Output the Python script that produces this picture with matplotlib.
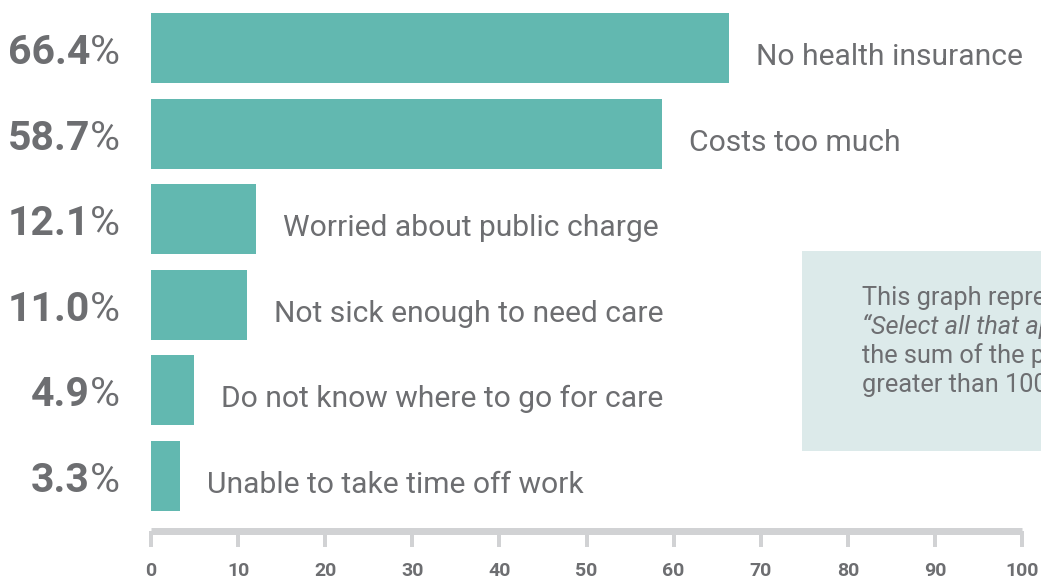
import matplotlib
matplotlib.use("Agg")
import matplotlib.pyplot as plt
from matplotlib.transforms import blended_transform_factory
from matplotlib.patches import Rectangle

# Reasons for not seeking care (percent of respondents)
reasons = [
    "No health insurance",
    "Costs too much",
    "Worried about public charge",
    "Not sick enough to need care",
    "Do not know where to go for care",
    "Unable to take time off work",
]
shares = [66.4, 58.7, 12.1, 11.0, 4.9, 3.3]
share_labels = ["66.4", "58.7", "12.1", "11.0", "4.9", "3.3"]
x_ticks = [0, 10, 20, 30, 40, 50, 60, 70, 80, 90, 100]

BAR = "#62b8b0"
TEXT = "#6d6e71"
AXIS = "#d1d2d4"
NOTE_BG = "#dceaea"

W, H = 1041, 580
fig = plt.figure(figsize=(W / 100, H / 100), dpi=100)
fig.patch.set_facecolor("white")

# axes placed in pixel terms: x 0..100 spans px 151..1022, rows spaced 85.6 px
left_px, right_px = 151, 1022
top_px, bottom_px = 5, 531
ax = fig.add_axes([left_px / W, 1 - bottom_px / H,
                   (right_px - left_px) / W, (bottom_px - top_px) / H])
pitch = 85.6
ax.set_xlim(0, 100)
ax.set_ylim(5 + (bottom_px - 476) / pitch, -(48 - top_px) / pitch)

ypos = list(range(len(reasons)))
ax.barh(ypos, shares, height=70 / pitch, color=BAR, left=0)

for s in ["top", "right", "left"]:
    ax.spines[s].set_visible(False)
ax.spines["bottom"].set_color(AXIS)
ax.spines["bottom"].set_linewidth(7 * 0.72)
ax.spines["bottom"].set_capstyle("butt")
ax.set_yticks([])
ax.set_xticks(x_ticks)
ax.set_xticklabels([str(t) for t in x_ticks])
ax.tick_params(axis="x", length=16 * 0.72, width=4 * 0.72, color=AXIS,
               pad=10.5, labelsize=14, labelcolor=TEXT)
for lbl in ax.get_xticklabels():
    lbl.set_fontfamily("Roboto")
    lbl.set_fontweight("bold")

# category labels to the right of each bar
for y, v, name in zip(ypos, shares, reasons):
    ax.annotate(name, xy=(v, y), xytext=(27 * 0.72, -17 * 0.72), textcoords="offset points",
                ha="left", va="baseline", fontsize=21.6, color=TEXT,
                family="Roboto", annotation_clip=False)

# percentage labels on the left: bold number with a regular percent sign
fig.canvas.draw()
renderer = fig.canvas.get_renderer()
trans = blended_transform_factory(fig.transFigure, ax.transData)
pct_right = 120 / W
for y, txt in zip(ypos, share_labels):
    yb = y + 16 / pitch
    p = fig.text(pct_right, yb, "%", transform=trans, ha="right", va="baseline",
                 fontsize=29.5, color=TEXT, family="Roboto")
    wpx = p.get_window_extent(renderer).width
    fig.text(pct_right - wpx / W, yb, txt, transform=trans, ha="right", va="baseline",
             fontsize=29.5, color=TEXT, family="Roboto", fontweight="bold")

# note box, running off the right edge
fig.patches.append(Rectangle((802 / W, 1 - 451 / H), 300 / W, 200 / H,
                             transform=fig.transFigure, facecolor=NOTE_BG,
                             edgecolor="none", zorder=0))
note_x = 862 / W
note_size = 18.3
fig.text(note_x, 1 - 305 / H, "This graph represents a", fontsize=note_size,
         color=TEXT, family="Roboto", va="baseline")
fig.text(note_x, 1 - 334 / H, "\u201cSelect all that apply\u201d question, so",
         fontsize=note_size, color=TEXT, family="Roboto", style="italic", va="baseline")
fig.text(note_x, 1 - 363 / H, "the sum of the percentages is", fontsize=note_size,
         color=TEXT, family="Roboto", va="baseline")
fig.text(note_x, 1 - 392 / H, "greater than 100%.", fontsize=note_size,
         color=TEXT, family="Roboto", va="baseline")

fig.savefig("out.png", dpi=100, facecolor="white")
